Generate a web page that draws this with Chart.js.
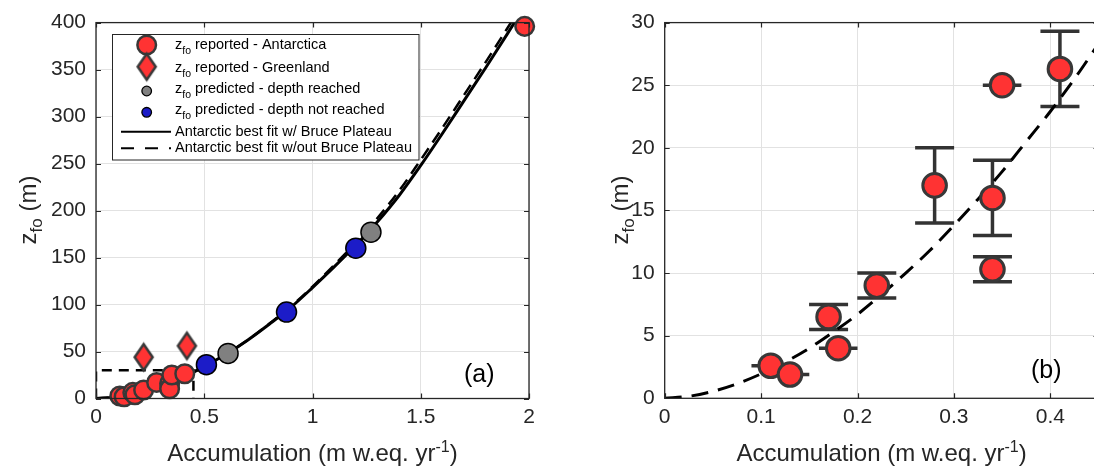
<!DOCTYPE html>
<html><head><meta charset="utf-8">
<script src="https://cdn.jsdelivr.net/npm/chart.js@4.4.1/dist/chart.umd.min.js"></script>
<style>
html,body{margin:0;padding:0;background:#fff;overflow:hidden;}
#wrap{position:relative;width:1094px;height:470px;overflow:hidden;background:#fff;}
#c1{position:absolute;left:0;top:0;}
#c2{position:absolute;left:560px;top:0;}
</style></head><body>
<div id="wrap"><canvas id="c1" width="560" height="470"></canvas><canvas id="c2" width="560" height="470"></canvas></div>
<script>
// ---------------- DATA ----------------
// Reported firn-air depth, Antarctica
const antAccum  = [0.11, 0.13, 0.17, 0.18, 0.22, 0.28, 0.34, 0.34, 0.35, 0.41, 1.98];
const antZfo    = [2.6, 1.9, 6.5, 4.0, 9.0, 17.0, 16.0, 10.3, 25.0, 26.3, 396];
const antZErr   = [0, 0, 1, 0, 1, 3, 3, 1, 0, 3, 0];
const antAccErr = [0.02, 0.02, 0, 0.02, 0, 0, 0, 0, 0.02, 0, 0];
// Reported, Greenland
const grlAccum = [0.22, 0.42];
const grlZfo   = [44, 56];
// Predicted - depth reached
const reachedAccum = [0.61, 1.27];
const reachedZfo   = [48, 177];
// Predicted - depth not reached
const notReachedAccum = [0.51, 0.88, 1.20];
const notReachedZfo   = [36, 92, 160];
// Fit curves (panel a)
const fitAccum       = [0, 0.1, 0.2, 0.3, 0.4, 0.5, 0.6, 0.7, 0.8, 0.9, 1.0, 1.1, 1.2, 1.3, 1.4, 1.5, 1.6, 1.7, 1.8, 1.9, 2.0];
const fitWithBruce   = [0, 2.0, 6.7, 13.8, 22.9, 34, 47, 62, 79, 97, 118, 140, 163, 188, 216, 248, 282, 317, 352, 388, 425];
const fitWithoutBruce= [0, 1.9, 6.5, 13.5, 22.6, 33.8, 47, 62, 79.5, 98, 119, 142, 166, 192, 221, 254, 288, 323, 358, 394, 431];
// Fit curve (panel b, w/out Bruce Plateau)
const fitAccumB = [0, 0.025, 0.05, 0.075, 0.1, 0.125, 0.15, 0.175, 0.2, 0.225, 0.25, 0.275, 0.3, 0.325, 0.35, 0.375, 0.4, 0.425, 0.45];
const fitZfoB   = [0, 0.16, 0.56, 1.16, 1.95, 2.9, 4.0, 5.3, 6.7, 8.3, 10.0, 11.8, 13.8, 15.9, 18.1, 20.5, 22.9, 25.5, 28.3];
// Axis ticks
const aXTicks = [0, 0.5, 1, 1.5, 2];      const aXLabels = ['0','0.5','1','1.5','2'];
const aYTicks = [0,50,100,150,200,250,300,350,400];
const aYLabels = ['0','50','100','150','200','250','300','350','400'];
const bXTicks = [0, 0.1, 0.2, 0.3, 0.4];  const bXLabels = ['0','0.1','0.2','0.3','0.4'];
const bYTicks = [0,5,10,15,20,25,30];     const bYLabels = ['0','5','10','15','20','25','30'];
const aRange = {xMin:0, xMax:2, yMin:0, yMax:400};
const bRange = {xMin:0, xMax:0.45, yMin:0, yMax:30};
// Text
const legendLabels = [
  [['z',0],['fo',1],[' reported - Antarctica',0]],
  [['z',0],['fo',1],[' reported - Greenland',0]],
  [['z',0],['fo',1],[' predicted - depth reached',0]],
  [['z',0],['fo',1],[' predicted - depth not reached',0]],
  [['Antarctic best fit w/ Bruce Plateau',0]],
  [['Antarctic best fit w/out Bruce Plateau',0]]
];
const xTitleRuns = [['Accumulation (m w.eq. yr',0],['-1',2],[')',0]];
const yTitleRuns = [['z',0],['fo',1],[' (m)',0]];
const panelLabels = ['(a)','(b)'];

// ---------------- STYLE ----------------
const FONT = '"Liberation Sans", Arial, Helvetica, sans-serif';
const fnt = s => s + 'px ' + FONT;
const AX = '#262626';
const GRID = '#e2e2e2';
const RED = '#ff3333', RED_EDGE = '#383838';
const BLUE = '#1c1cc8', GRAY = '#808080';

function makeDiamond(w, h, fill, stroke, lw) {
  const c = document.createElement('canvas');
  c.width = Math.ceil(w + lw * 2 + 4); c.height = Math.ceil(h + lw * 2 + 4);
  const g = c.getContext('2d');
  const cx = c.width / 2, cy = c.height / 2;
  g.beginPath(); g.moveTo(cx, cy - h / 2); g.lineTo(cx + w / 2, cy); g.lineTo(cx, cy + h / 2); g.lineTo(cx - w / 2, cy); g.closePath();
  g.fillStyle = fill; g.fill(); g.lineWidth = lw; g.strokeStyle = stroke; g.lineJoin = 'miter'; g.stroke();
  return c;
}
const diamondImg = makeDiamond(18, 26, RED, RED_EDGE, 2.5);

const pts = (xs, ys) => xs.map((x, i) => ({x, y: ys[i]}));

function drawRuns(ctx, runs, x, y, sizes) {
  let cx = x;
  for (const [t, k] of runs) {
    const s = sizes[k];
    ctx.font = fnt(s.size);
    ctx.fillText(t, cx, y + s.dy);
    cx += ctx.measureText(t).width;
  }
  return cx;
}
function runsWidth(ctx, runs, sizes) {
  let w = 0;
  for (const [t, k] of runs) { ctx.font = fnt(sizes[k].size); w += ctx.measureText(t).width; }
  return w;
}
const titleSizes = [{size:24, dy:0}, {size:17, dy:6}, {size:16, dy:-9}];
const legendSizes = [{size:14.5, dy:0}, {size:10.5, dy:5}];

function tickOpts(vals, labels, pad) {
  return {
    afterBuildTicks: s => { s.ticks = vals.map(v => ({value: v})); },
    ticks: {
      font: {family: FONT, size: 21}, color: AX, padding: pad, autoSkip: false, maxRotation: 0,
      callback: v => { const i = vals.findIndex(t => Math.abs(t - v) < 1e-9); return i >= 0 ? labels[i] : ''; }
    },
    grid: {color: GRID, lineWidth: 1, drawTicks: false},
    border: {display: false}
  };
}

// Frame plugin: box, inward ticks, axis titles, panel label, legend, error bars
function framePlugin(cfg) {
  return {
    id: 'frame' + cfg.name,
    beforeDatasetsDraw(chart) {
      if (!cfg.errors) return;
      const ctx = chart.ctx, xs = chart.scales.x, ys = chart.scales.y;
      ctx.save();
      ctx.strokeStyle = '#333333'; ctx.lineWidth = 3.5; ctx.lineCap = 'butt';
      antAccum.forEach((a, i) => {
        const px = xs.getPixelForValue(a), py = ys.getPixelForValue(antZfo[i]);
        if (antZErr[i] > 0) {
          const t = ys.getPixelForValue(antZfo[i] + antZErr[i]);
          const b = ys.getPixelForValue(antZfo[i] - antZErr[i]);
          ctx.beginPath(); ctx.moveTo(px, t); ctx.lineTo(px, b);
          ctx.moveTo(px - 19.5, t); ctx.lineTo(px + 19.5, t);
          ctx.moveTo(px - 19.5, b); ctx.lineTo(px + 19.5, b);
          ctx.stroke();
        }
        if (antAccErr[i] > 0) {
          const l = xs.getPixelForValue(a - antAccErr[i]);
          const r = xs.getPixelForValue(a + antAccErr[i]);
          ctx.beginPath(); ctx.moveTo(l, py); ctx.lineTo(r, py); ctx.stroke();
        }
      });
      ctx.restore();
    },
    afterDraw(chart) {
      const ctx = chart.ctx, ca = chart.chartArea, xs = chart.scales.x, ys = chart.scales.y;
      ctx.save();
      // box
      ctx.strokeStyle = AX; ctx.lineWidth = 1.3;
      ctx.strokeRect(ca.left, ca.top, ca.right - ca.left, ca.bottom - ca.top);
      // inward ticks
      ctx.lineWidth = 1.2;
      ctx.beginPath();
      cfg.xTicks.forEach(v => {
        const p = Math.round(xs.getPixelForValue(v)) + 0.5;
        ctx.moveTo(p, ca.bottom); ctx.lineTo(p, ca.bottom - 5);
        ctx.moveTo(p, ca.top); ctx.lineTo(p, ca.top + 5);
      });
      cfg.yTicks.forEach(v => {
        const p = Math.round(ys.getPixelForValue(v)) + 0.5;
        ctx.moveTo(ca.left, p); ctx.lineTo(ca.left + 5, p);
        ctx.moveTo(ca.right, p); ctx.lineTo(ca.right - 5, p);
      });
      ctx.stroke();
      // x title
      ctx.fillStyle = AX; ctx.textBaseline = 'alphabetic'; ctx.textAlign = 'left';
      const xw = runsWidth(ctx, xTitleRuns, titleSizes);
      drawRuns(ctx, xTitleRuns, (ca.left + ca.right) / 2 - xw / 2, 460.5, titleSizes);
      // y title
      ctx.save();
      ctx.translate(cfg.yTitleX, 210);
      ctx.rotate(-Math.PI / 2);
      const yw = runsWidth(ctx, yTitleRuns, titleSizes);
      drawRuns(ctx, yTitleRuns, -yw / 2, 0, titleSizes);
      ctx.restore();
      // panel label
      ctx.fillStyle = '#000'; ctx.font = fnt(25);
      ctx.fillText(cfg.panel, cfg.panelX, cfg.panelY);
      // legend
      if (cfg.legend) {
        const L = {x: 112.5, y: 34.5, w: 306.5, h: 125.5};
        ctx.fillStyle = '#fff'; ctx.fillRect(L.x, L.y, L.w, L.h);
        ctx.strokeStyle = AX; ctx.lineWidth = 1; ctx.strokeRect(L.x, L.y, L.w, L.h);
        const mx = 146.7, tx = 175;
        const baselines = [49.3, 71.7, 93.3, 114, 136, 151.7];
        // markers
        ctx.beginPath(); ctx.arc(mx, 45, 9.3, 0, Math.PI * 2);
        ctx.fillStyle = RED; ctx.fill(); ctx.lineWidth = 2.5; ctx.strokeStyle = RED_EDGE; ctx.stroke();
        ctx.drawImage(diamondImg, mx - diamondImg.width / 2, 66.7 - diamondImg.height / 2);
        ctx.beginPath(); ctx.arc(mx, 91, 4.8, 0, Math.PI * 2);
        ctx.fillStyle = GRAY; ctx.fill(); ctx.lineWidth = 1.3; ctx.strokeStyle = '#000'; ctx.stroke();
        ctx.beginPath(); ctx.arc(mx, 112.3, 4.8, 0, Math.PI * 2);
        ctx.fillStyle = BLUE; ctx.fill(); ctx.stroke();
        ctx.strokeStyle = '#000'; ctx.lineWidth = 2;
        ctx.beginPath(); ctx.moveTo(121, 131.7); ctx.lineTo(171, 131.7); ctx.stroke();
        ctx.setLineDash([13, 11]);
        ctx.beginPath(); ctx.moveTo(121, 148.3); ctx.lineTo(171, 148.3); ctx.stroke();
        ctx.setLineDash([]);
        ctx.fillStyle = '#000';
        legendLabels.forEach((runs, i) => drawRuns(ctx, runs, tx, baselines[i], legendSizes));
      }
      ctx.restore();
    }
  };
}

Chart.defaults.font.family = FONT;

// ---------------- PANEL (a) ----------------
const zoomBoxX = [bRange.xMin, bRange.xMin, bRange.xMax, bRange.xMax];
const zoomBoxY = [bRange.yMin, bRange.yMax, bRange.yMax, bRange.yMin];

new Chart(document.getElementById('c1'), {
  type: 'scatter',
  data: {
    datasets: [
      {data: pts(antAccum, antZfo), pointRadius: 9.3, pointBackgroundColor: RED, pointBorderColor: RED_EDGE, pointBorderWidth: 2.5, clip: false, order: 0},
      {data: pts(grlAccum, grlZfo), pointStyle: diamondImg, pointRadius: 12, clip: false, order: 1},
      {data: pts(reachedAccum, reachedZfo), pointRadius: 10, pointBackgroundColor: GRAY, pointBorderColor: '#000', pointBorderWidth: 1.5, clip: false, order: 2},
      {data: pts(notReachedAccum, notReachedZfo), pointRadius: 10, pointBackgroundColor: BLUE, pointBorderColor: '#000', pointBorderWidth: 1.5, clip: false, order: 3},
      {data: pts(fitAccum, fitWithBruce), showLine: true, pointRadius: 0, borderColor: '#000', borderWidth: 3, cubicInterpolationMode: 'monotone', order: 5},
      {data: pts(fitAccum, fitWithoutBruce), showLine: true, pointRadius: 0, borderColor: '#000', borderWidth: 2.5, borderDash: [12, 7], cubicInterpolationMode: 'monotone', order: 6},
      {data: pts(zoomBoxX, zoomBoxY), showLine: true, pointRadius: 0, borderColor: '#000', borderWidth: 2.5, borderDash: [10, 7], tension: 0, order: 7}
    ]
  },
  options: {
    responsive: false, animation: false, devicePixelRatio: 1,
    layout: {padding: {top: 18, right: 31, left: 0, bottom: 0}},
    plugins: {legend: {display: false}, tooltip: {enabled: false}},
    scales: {
      x: Object.assign({type: 'linear', min: aRange.xMin, max: aRange.xMax, afterFit: s => { s.height = 71.5; }}, tickOpts(aXTicks, aXLabels, 6)),
      y: Object.assign({type: 'linear', min: aRange.yMin, max: aRange.yMax, afterFit: s => { s.width = 96; }}, tickOpts(aYTicks, aYLabels, 10))
    }
  },
  plugins: [framePlugin({name: 'a', xTicks: aXTicks, yTicks: aYTicks, yTitleX: 36, panel: panelLabels[0], panelX: 464, panelY: 381.5, legend: true, errors: false})]
});

// ---------------- PANEL (b) ----------------
const bIdx = antAccum.map((a, i) => i).filter(i => antAccum[i] <= bRange.xMax && antZfo[i] <= bRange.yMax);
new Chart(document.getElementById('c2'), {
  type: 'scatter',
  data: {
    datasets: [
      {data: bIdx.map(i => ({x: antAccum[i], y: antZfo[i]})), pointRadius: 11.8, pointBackgroundColor: RED, pointBorderColor: RED_EDGE, pointBorderWidth: 3, clip: false, order: 0},
      {data: pts(fitAccumB, fitZfoB), showLine: true, pointRadius: 0, borderColor: '#000', borderWidth: 3, borderDash: [17, 10], cubicInterpolationMode: 'monotone', order: 5}
    ]
  },
  options: {
    responsive: false, animation: false, devicePixelRatio: 1,
    layout: {padding: {top: 18.3, right: 21.5, left: 0, bottom: 0}},
    plugins: {legend: {display: false}, tooltip: {enabled: false}},
    scales: {
      x: Object.assign({type: 'linear', min: bRange.xMin, max: bRange.xMax, afterFit: s => { s.height = 71.7; }}, tickOpts(bXTicks, bXLabels, 6)),
      y: Object.assign({type: 'linear', min: bRange.yMin, max: bRange.yMax, afterFit: s => { s.width = 104.7; }}, tickOpts(bYTicks, bYLabels, 10))
    }
  },
  plugins: [framePlugin({name: 'b', xTicks: bXTicks, yTicks: bYTicks, yTitleX: 68, panel: panelLabels[1], panelX: 471, panelY: 378, legend: false, errors: true})]
});
</script>
</body></html>
